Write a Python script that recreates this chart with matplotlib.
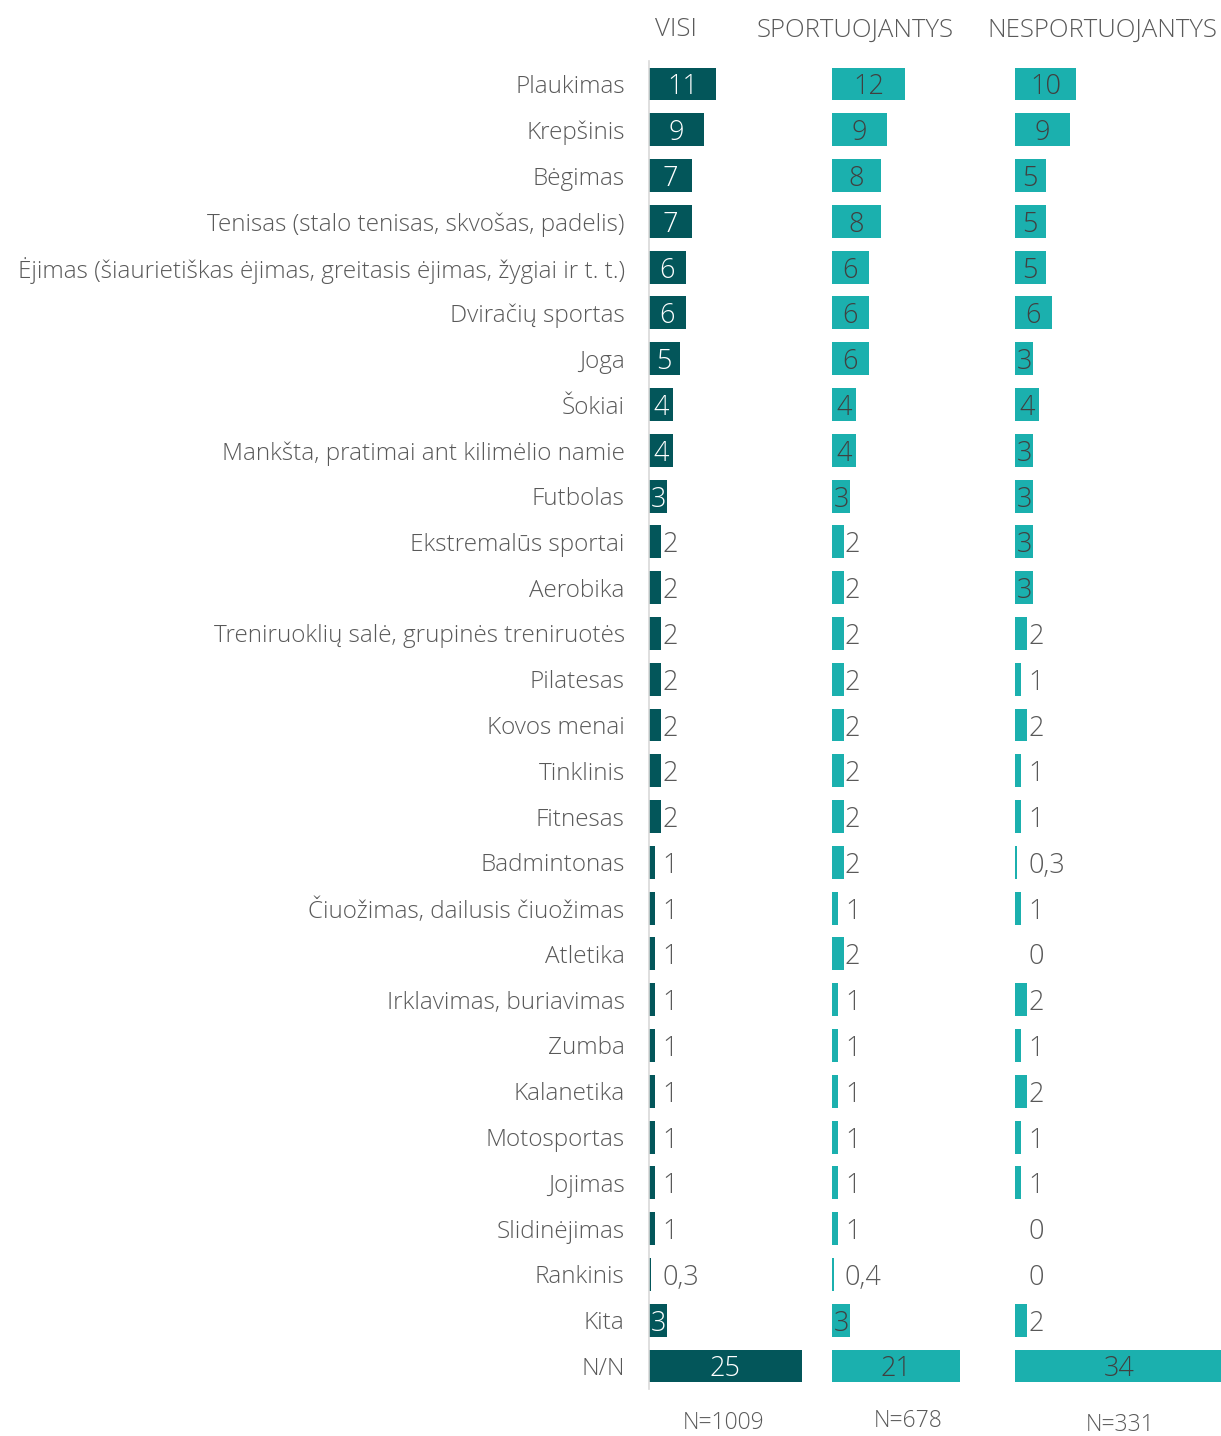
import matplotlib
matplotlib.use("Agg")
import matplotlib.pyplot as plt

categories = [
    "Plaukimas", "Krepšinis", "Bėgimas",
    "Tenisas (stalo tenisas, skvošas, padelis)",
    "Ėjimas (šiaurietiškas ėjimas, greitasis ėjimas, žygiai ir t. t.)",
    "Dviračių sportas", "Joga", "Šokiai",
    "Mankšta, pratimai ant kilimėlio namie", "Futbolas",
    "Ekstremalūs sportai", "Aerobika",
    "Treniruoklių salė, grupinės treniruotės", "Pilatesas", "Kovos menai",
    "Tinklinis", "Fitnesas", "Badmintonas",
    "Čiuožimas, dailusis čiuožimas", "Atletika", "Irklavimas, buriavimas",
    "Zumba", "Kalanetika", "Motosportas", "Jojimas", "Slidinėjimas",
    "Rankinis", "Kita", "N/N",
]
visi = [11, 9, 7, 7, 6, 6, 5, 4, 4, 3, 2, 2, 2, 2, 2, 2, 2, 1, 1, 1, 1, 1, 1, 1, 1, 1, 0.3, 3, 25]
sportuojantys = [12, 9, 8, 8, 6, 6, 6, 4, 4, 3, 2, 2, 2, 2, 2, 2, 2, 2, 1, 2, 1, 1, 1, 1, 1, 1, 0.4, 3, 21]
nesportuojantys = [10, 9, 5, 5, 5, 6, 3, 4, 3, 3, 3, 3, 2, 1, 2, 1, 1, 0.3, 1, 0, 2, 1, 2, 1, 1, 0, 0, 2, 34]
headers = ["VISI", "SPORTUOJANTYS", "NESPORTUOJANTYS"]
n_labels = ["N=1009", "N=678", "N=331"]

FONT = "Open Sans"
FW = "light"
FS_CAT = 17.5
FS_VAL = 19.5
FS_HEAD = 18.5
FS_N = 16.5
W, H = 1221, 1436
fig = plt.figure(figsize=(W / 100, H / 100), dpi=100)

DARK = "#03565A"
TEAL = "#1BB0AE"
GRAY = "#595959"
PX_PER_UNIT = 6.1

n = len(categories)
y = list(range(n))
row0, rowN = 84, 1366
step = (rowN - row0) / (n - 1)
top_px = row0 - step / 2
bot_px = rowN + step / 2

panels = [
    (visi, 649, 183, DARK, "white"),
    (sportuojantys, 832, 183, TEAL, "#404040"),
    (nesportuojantys, 1015, 206, TEAL, "#404040"),
]

def fmt(v):
    if v == int(v):
        return str(int(v))
    return ("%g" % v).replace(".", ",")

axes = []
for i, (vals, x0, wpx, color, incol) in enumerate(panels):
    ax = fig.add_axes([x0 / W, 1 - bot_px / H, wpx / W, (bot_px - top_px) / H])
    ax.barh(y, vals, height=0.72, color=color, clip_on=False)
    ax.set_xlim(0, wpx / PX_PER_UNIT)
    ax.set_ylim(n - 0.5, -0.5)
    for s in ax.spines.values():
        s.set_visible(False)
    ax.set_xticks([])
    ax.set_yticks([])
    for yi, v in zip(y, vals):
        if v >= 3:
            ax.text(v / 2, yi, fmt(v), ha="center", va="center_baseline", color=incol,
                    fontsize=FS_VAL, family=FONT, fontweight=FW, clip_on=False)
        else:
            ax.text(13 / PX_PER_UNIT, yi, fmt(v), ha="left", va="center_baseline", color=GRAY,
                    fontsize=FS_VAL, family=FONT, fontweight=FW, clip_on=False)
    axes.append(ax)

ax0 = axes[0]
ax0.set_yticks(y)
ax0.set_yticklabels(categories, fontsize=FS_CAT, family=FONT, fontweight=FW, color=GRAY,
                    va="center_baseline")
ax0.tick_params(axis="y", length=0, pad=17.5)
ax0.axvline(0, ymin=0, ymax=1, color="#D9D9D9", lw=1.2, clip_on=False)

hx = [676, 855, 1102]
for x, t in zip(hx, headers):
    fig.text(x / W, 1 - 27 / H, t, ha="center", va="center_baseline", fontsize=FS_HEAD,
             family=FONT, fontweight=FW, color=GRAY)

nx = [(724, 1420), (908, 1418), (1120, 1422)]
for (x, yy), t in zip(nx, n_labels):
    fig.text(x / W, 1 - yy / H, t, ha="center", va="center_baseline", fontsize=FS_N,
             family=FONT, fontweight=FW, color=GRAY)

fig.savefig("out.png", dpi=100)
